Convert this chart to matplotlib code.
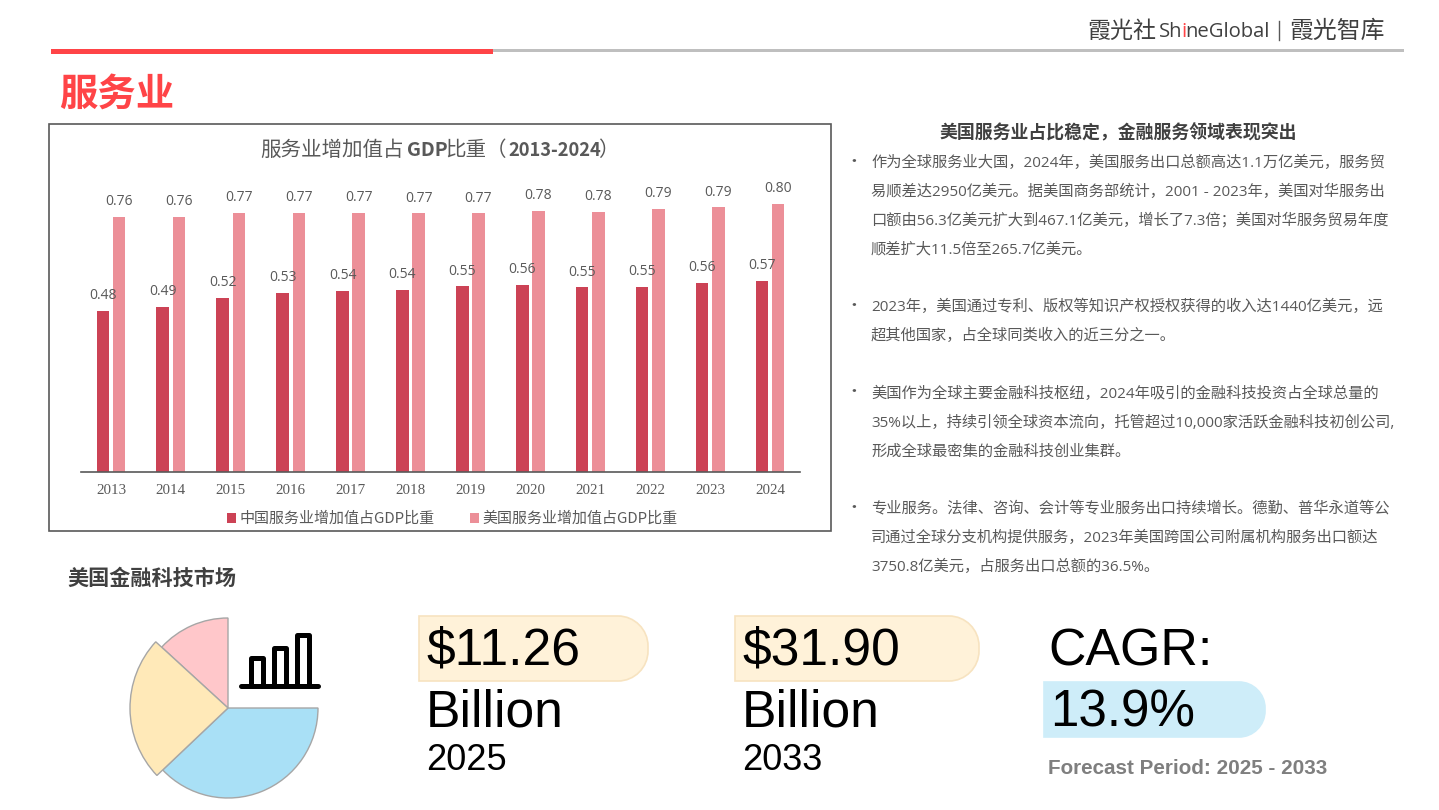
import matplotlib
matplotlib.use('Agg')
import matplotlib.pyplot as plt
from matplotlib.path import Path
from matplotlib.patches import PathPatch, Rectangle

plt.rcParams['font.family'] = ['Noto Sans CJK SC', 'DejaVu Sans']

years = ['2013', '2014', '2015', '2016', '2017', '2018', '2019', '2020', '2021', '2022', '2023', '2024']
china_share = [0.481, 0.494, 0.519, 0.534, 0.54, 0.543, 0.554, 0.558, 0.551, 0.552, 0.564, 0.57]
us_share = [0.761, 0.761, 0.773, 0.774, 0.773, 0.772, 0.772, 0.78, 0.777, 0.786, 0.79, 0.80]
china_name = '中国服务业增加值占GDP比重'
us_name = '美国服务业增加值占GDP比重'

pie_values = [47.5, 86, 136.5, 90]
pie_colors = ['#FFC7CA', '#FFE9B8', '#A9E0F6', 'none']

body_head = '美国服务业占比稳定，金融服务领域表现突出'
body_lines = [
    ['作为全球服务业大国，2024年，美国服务出口总额高达1.1万亿美元，服务贸',
     '易顺差达2950亿美元。据美国商务部统计，2001 - 2023年，美国对华服务出',
     '口额由56.3亿美元扩大到467.1亿美元，增长了7.3倍；美国对华服务贸易年度',
     '顺差扩大11.5倍至265.7亿美元。'],
    ['2023年，美国通过专利、版权等知识产权授权获得的收入达1440亿美元，远',
     '超其他国家，占全球同类收入的近三分之一。'],
    ['美国作为全球主要金融科技枢纽，2024年吸引的金融科技投资占全球总量的',
     '35%以上，持续引领全球资本流向，托管超过10,000家活跃金融科技初创公司,',
     '形成全球最密集的金融科技创业集群。'],
    ['专业服务。法律、咨询、会计等专业服务出口持续增长。德勤、普华永道等公',
     '司通过全球分支机构提供服务，2023年美国跨国公司附属机构服务出口额达',
     '3750.8亿美元，占服务出口总额的36.5%。'],
]
body_y = [163, 307, 394, 509]

W, H = 1439, 810
ARIAL = ['Liberation Sans', 'DejaVu Sans']
LATIN_CJK = ['Open Sans', 'Noto Sans CJK SC']


def px_axes(fig, x0, y0, x1, y1):
    # axes placed by pixel box, y counted from the top of the picture
    return fig.add_axes([x0 / W, 1 - y1 / H, (x1 - x0) / W, (y1 - y0) / H])


def pill(ax, x0, y0, x1, y1, r, fc, ec):
    k = 0.55 * r
    verts = [(x0, y0), (x1 - r, y0), (x1 - r + k, y0), (x1, y0 + r - k), (x1, y0 + r),
             (x1, y1 - r), (x1, y1 - r + k), (x1 - r + k, y1), (x1 - r, y1), (x0, y1), (x0, y0)]
    codes = [Path.MOVETO, Path.LINETO, Path.CURVE4, Path.CURVE4, Path.CURVE4,
             Path.LINETO, Path.CURVE4, Path.CURVE4, Path.CURVE4, Path.LINETO, Path.CLOSEPOLY]
    ax.add_patch(PathPatch(Path(verts, codes), fc=fc, ec=ec, lw=1.2))


def text_run(ax, x, y, pieces, **kw):
    # pieces of text laid one after the other, each with its own style
    rend = ax.figure.canvas.get_renderer()
    for s, style in pieces:
        t = ax.text(x, y, s, va='center', **{**kw, **style})
        x += t.get_window_extent(rend).width - 1


fig = plt.figure(figsize=(W / 100, H / 100), dpi=100)

page = fig.add_axes([0, 0, 1, 1], zorder=0)
page.set_xlim(0, W)
page.set_ylim(H, 0)
page.axis('off')

# header
page.add_patch(Rectangle((493, 48.5), 911, 3, fc='#BFBFBF', ec='none'))
page.add_patch(Rectangle((51, 49), 442, 5, fc='#FF4447', ec='none'))
page.text(1087, 31, '霞光社', fontsize=16.6, color='#404040', va='center')
text_run(page, 1159, 32, [('Sh', {}), ('i', {'color': '#FF4447'}), ('neGlobal', {})],
         family='Open Sans', fontsize=14.6, color='#404040')
page.plot([1279, 1279], [21, 40], color='#595959', lw=1)
page.text(1289, 31, '霞光智库', fontsize=17.2, color='#404040', va='center')

page.text(59, 94, '服务业', fontsize=27.6, fontweight='bold', color='#FF4447', va='center')

# chart frame
page.add_patch(Rectangle((49, 124), 782, 407, fc='white', ec='#595959', lw=1.2))

title_grey = '#595959'
page.text(260, 150, '服务业增加值占', fontsize=14.8, color=title_grey, va='center')
page.text(407, 150, 'GDP', fontsize=14, fontweight='bold', color=title_grey, va='center')
page.text(445, 150, '比重（', fontsize=14.8, color=title_grey, va='center')
page.text(508, 150, '2013-2024', fontsize=13.2, fontweight='bold', color=title_grey, va='center')
page.text(598, 150, '）', fontsize=14.8, color=title_grey, va='center')

# bar chart
ax = px_axes(fig, 81, 170.5, 800, 472)
ax.patch.set_alpha(0)
pos = list(range(len(years)))
bars_cn = ax.bar([p - 0.135 for p in pos], china_share, 0.21, color='#CC4255', label=china_name)
bars_us = ax.bar([p + 0.135 for p in pos], us_share, 0.21, color='#EC8F98', label=us_name)
ax.bar_label(bars_cn, fmt='%.2f', padding=5.5, fontsize=10, color='#595959', family='Open Sans')
ax.bar_label(bars_us, fmt='%.2f', padding=5.5, fontsize=10, color='#595959', family='Open Sans')
ax.set_xlim(-0.5, 11.5)
ax.set_ylim(0, 0.9)
ax.set_xticks(pos)
ax.set_xticklabels(years, family='Liberation Serif', fontsize=10.8, color='#595959')
ax.tick_params(axis='x', length=0, pad=9)
ax.set_yticks([])
for side in ['top', 'right', 'left']:
    ax.spines[side].set_visible(False)
ax.spines['bottom'].set_color('#595959')
ax.spines['bottom'].set_linewidth(1.2)
fig.legend(handles=[bars_cn, bars_us], loc='center', bbox_to_anchor=(452 / W, 1 - 519 / H),
           ncol=2, frameon=False, fontsize=10.8, labelcolor='#595959', handlelength=0.6,
           handleheight=0.6, handletextpad=0.25, columnspacing=2.35)

# text column
page.text(1118, 133, body_head, fontsize=12.9, fontweight='bold', color='#404040',
          ha='center', va='center')
for lines, y0 in zip(body_lines, body_y):
    page.text(854, y0 - 2, '•', fontsize=12, color='#595959', ha='center', va='center')
    for i, line in enumerate(lines):
        page.text(871, y0 + i * 29, line, family=LATIN_CJK, fontsize=11, color='#595959', va='center')

# market block
page.text(67, 578, '美国金融科技市场', fontsize=15.2, fontweight='bold', color='#404040', va='center')

pie_ax = px_axes(fig, 128, 608, 328, 808)
wedges, _ = pie_ax.pie(pie_values, colors=pie_colors, startangle=90, counterclock=True, radius=90,
                       wedgeprops={'edgecolor': '#A6A6A6', 'linewidth': 1})
wedges[3].set_visible(False)
wedges[1].set_radius(98)
wedges[1].set_zorder(wedges[0].get_zorder() + 1)
pie_ax.set_xlim(-100, 100)
pie_ax.set_ylim(-100, 100)

# icon
page.plot([241, 318], [686, 686], color='black', lw=3.6, solid_capstyle='round')
for x0, x1, top in [(251, 263, 658), (274, 286, 648), (297, 309, 635)]:
    page.plot([x0, x0, x1, x1], [686, top, top, 686], color='black', lw=3.6, solid_joinstyle='round')

pill(page, 419, 616, 648, 681, 30, '#FFF2D9', '#F7E3C0')
pill(page, 735, 616, 979, 681, 30, '#FFF2D9', '#F7E3C0')
pill(page, 1044, 682, 1265, 737, 26, '#CEEDF9', '#CEEDF9')

for x, amount, year in [(426, '$11.26', '2025'), (742, '$31.90', '2033')]:
    page.text(x, 651, amount, family=ARIAL, fontsize=37.2, color='black', va='center')
    page.text(x, 713, 'Billion', family=ARIAL, fontsize=37.2, color='black', va='center')
    page.text(x, 761, year, family=ARIAL, fontsize=26, color='black', va='center')
page.text(1048, 652, 'CAGR:', family=ARIAL, fontsize=37.4, color='black', va='center')
page.text(1050, 713, '13.9%', family=ARIAL, fontsize=36.8, color='black', va='center')
page.text(1048, 768, 'Forecast Period: 2025 - 2033', family=ARIAL, fontsize=14.9,
          fontweight='bold', color='#7F7F7F', va='center')

fig.savefig('out.png', dpi=100)
plt.close(fig)
